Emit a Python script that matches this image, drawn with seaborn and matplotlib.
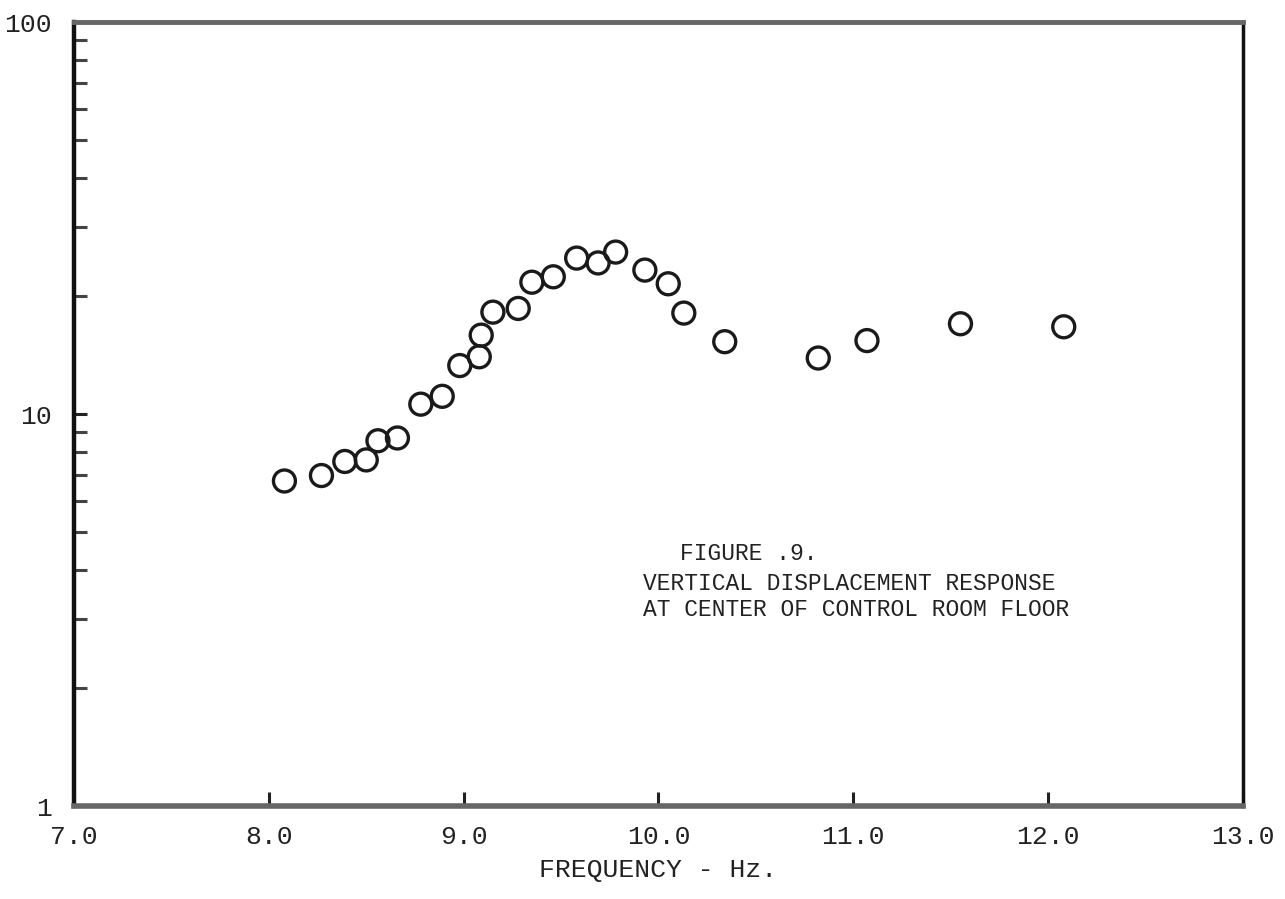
import numpy as np
import pandas as pd
import seaborn as sns
import matplotlib
matplotlib.use('Agg')
import matplotlib.pyplot as plt
from matplotlib.ticker import FixedLocator, NullFormatter

# frequency (Hz) and vertical displacement response
freq = [8.08, 8.27, 8.39, 8.50, 8.56, 8.66, 8.78, 8.89, 8.98, 9.08, 9.09, 9.15,
        9.28, 9.35, 9.46, 9.58, 9.69, 9.78, 9.93, 10.05, 10.13, 10.34, 10.82,
        11.07, 11.55, 12.08]
resp = [6.75, 6.97, 7.57, 7.64, 8.55, 8.69, 10.6, 11.1, 13.3, 14.0, 15.9, 18.2,
        18.6, 21.7, 22.4, 25.0, 24.3, 25.9, 23.3, 21.5, 18.1, 15.3, 13.9,
        15.4, 17.0, 16.7]

xticks = [7.0, 8.0, 9.0, 10.0, 11.0, 12.0, 13.0]
xticklabels = ['7.0', '8.0', '9.0', '10.0', '11.0', '12.0', '13.0']
yticks = [1, 10, 100]
yticklabels = ['1', '10', '100']
note = ['FIGURE .9.', 'VERTICAL DISPLACEMENT RESPONSE', 'AT CENTER OF CONTROL ROOM FLOOR']

df = pd.DataFrame({'freq': freq, 'resp': resp})

sns.set_style('white')
plt.rcParams['font.family'] = ['Liberation Mono', 'DejaVu Sans Mono']

fig = plt.figure(figsize=(12.85, 8.99), dpi=100)
ax = fig.add_axes([0.0576, 0.1034, 0.9097, 0.872])
ax.set_yscale('log')

sns.scatterplot(data=df, x='freq', y='resp', ax=ax, marker='o', s=250,
                facecolors='none', edgecolor='#1a1a1a', linewidth=2.4)

ax.set_xlim(7.0, 13.0)
ax.set_ylim(1, 100)

ax.set_xticks(xticks)
ax.set_xticklabels(xticklabels)
ax.yaxis.set_major_locator(FixedLocator(yticks))
ax.set_yticklabels(yticklabels)
minors = [m * d for d in (1, 10) for m in range(2, 10)]
ax.yaxis.set_minor_locator(FixedLocator(minors))
ax.yaxis.set_minor_formatter(NullFormatter())

ax.tick_params(axis='x', which='major', bottom=True, top=False, direction='in',
               length=10, width=2.2, color='#222222', labelsize=19,
               labelcolor='#222222', pad=14)
ax.tick_params(axis='y', which='major', left=True, right=False, direction='in',
               length=9, width=2.2, color='#222222', labelsize=19,
               labelcolor='#222222', pad=16)
ax.tick_params(axis='y', which='minor', left=True, right=False, direction='in',
               length=9, width=2.2, color='#444444')
ax.tick_params(axis='x', which='minor', bottom=False, top=False)

ax.set_xlabel('FREQUENCY - Hz.', fontsize=19, color='#222222', labelpad=6)
ax.set_ylabel('')

ax.spines['left'].set_linewidth(3.2)
ax.spines['left'].set_color('#111111')
ax.spines['right'].set_linewidth(2.5)
ax.spines['right'].set_color('#111111')
ax.spines['top'].set_linewidth(3.5)
ax.spines['top'].set_color('#666666')
ax.spines['bottom'].set_linewidth(4)
ax.spines['bottom'].set_color('#666666')

# caption block inside the plot
fig.text(680 / 1285, 1 - 553 / 899, note[0], fontsize=16.5, color='#222222',
         va='center', ha='left')
fig.text(643 / 1285, 1 - 583 / 899, note[1], fontsize=16.5, color='#222222',
         va='center', ha='left')
fig.text(643 / 1285, 1 - 610 / 899, note[2], fontsize=16.5, color='#222222',
         va='center', ha='left')

fig.savefig('out.png', dpi=100)
